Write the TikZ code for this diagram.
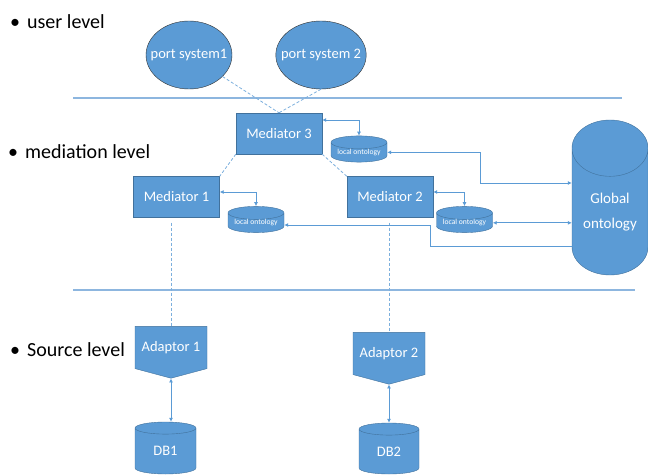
\documentclass[tikz,border=0pt]{standalone}
\usepackage{fontspec}
\setmainfont{Carlito}
\usetikzlibrary{calc,arrows.meta,shapes.geometric,shapes.symbols}
\definecolor{boxblue}{HTML}{5B9BD5}
\definecolor{boxedge}{HTML}{41719C}
\definecolor{rulecol}{HTML}{8DB6DF}
\tikzset{
	levellabel/.style={anchor=west, inner sep=0pt, font=\fontsize{20}{24}\selectfont},
	portsys/.style={ellipse, draw=black!80, fill=boxblue, text=white, minimum width=86pt, minimum height=68pt, inner xsep=-8pt, inner ysep=0pt, font=\fontsize{14.5}{17}\selectfont},
	mediator/.style={draw=boxedge, fill=boxblue, text=white, minimum width=86pt, minimum height=41pt, inner sep=0pt, font=\fontsize{14.5}{17}\selectfont},
	ontodb/.style={cylinder, shape border rotate=90, anchor=shape center, draw=boxedge, fill=boxblue, text=white, inner sep=0pt},
	adaptor/.style={signal, signal to=south, signal from=nowhere, signal pointer angle=150, draw=boxedge, fill=boxblue, text=white, minimum width=72pt, minimum height=50pt, inner sep=0pt, font=\fontsize{14.5}{17}\selectfont},
	dashlink/.style={draw=boxblue!80, dash pattern=on 3pt off 2pt, line width=0.8pt},
	biarrow/.style={draw=boxblue, line width=0.9pt, {Latex[length=4pt,width=4pt]}-{Latex[length=4pt,width=4pt]}},
	onearrow/.style={draw=boxblue, line width=0.9pt, -{Latex[length=4pt,width=4pt]}}
}

\begin{document}
\begin{tikzpicture}[x=1pt, y=-1pt]
	%%%%% START %%%%%
	\useasboundingbox (0, 0) rectangle (648, 476);
	
	\node[levellabel] (lvuser) at (10, 22) {\textbullet\hspace{7pt}user level};
	\node[levellabel] (lvmed) at (8, 152) {\textbullet\hspace{7pt}mediation level};
	\node[levellabel] (lvsrc) at (10, 350) {\textbullet\hspace{7pt}Source level};
	
	\draw[rulecol, line width=1.2pt] (73, 98) -- (622, 98);
	\draw[rulecol, line width=1.2pt] (73, 290) -- (635, 290);
	
	\node[portsys] (ps1) at (189, 55) {port system1};
	\node[portsys] (ps2) at (321, 55) {port system 2};
	
	\node[mediator] (m3) at (279, 133.5) {Mediator 3};
	\node[mediator] (m1) at (176.5, 197) {Mediator 1};
	\node[mediator] (m2) at (390, 197) {Mediator 2};
	
	\node[ontodb, minimum width=56pt, minimum height=25pt, aspect=0.3, font=\fontsize{7.6}{9}\selectfont] (lo3) at (359, 149) {local ontology};
	\node[ontodb, minimum width=56pt, minimum height=25pt, aspect=0.3, font=\fontsize{7.6}{9}\selectfont] (lo1) at (256, 219.5) {local ontology};
	\node[ontodb, minimum width=56pt, minimum height=25pt, aspect=0.3, font=\fontsize{7.6}{9}\selectfont] (lo2) at (464.5, 219.5) {local ontology};
	\node[ontodb, minimum width=76pt, minimum height=155pt, aspect=1.05, align=center, font=\fontsize{15}{25}\selectfont] (go) at (610, 197.5) {Global\\ontology};
	
	\node[adaptor] (ad1) at (171, 347.5) {Adaptor 1};
	\node[adaptor] (ad2) at (389, 353.5) {Adaptor 2};
	
	\node[ontodb, minimum width=61pt, minimum height=52pt, aspect=0.5, font=\fontsize{14.5}{17}\selectfont] (db1) at (165.5, 448) {DB1};
	\node[ontodb, minimum width=60pt, minimum height=51pt, aspect=0.5, font=\fontsize{14.5}{17}\selectfont] (db2) at (389, 448.5) {DB2};
	
	% dashed links
	\draw[dashlink] (ps1) -- (m3.north);
	\draw[dashlink] (ps2.south) -- (m3.north);
	\draw[dashlink] (m3.south west) -- (m1.north east);
	\draw[dashlink] (m3.south east) -- (m2.north west);
	\draw[dashlink] ([yshift=-5pt]m1.south -| ad1.north) -- (ad1.north);
	\draw[dashlink] ([yshift=-5pt]m2.south -| ad2.north) -- (ad2.north);
	
	% mediator <-> local ontology
	\draw[biarrow] ([yshift=13.5pt]m3.east) -| (lo3.north);
	\draw[biarrow] ([yshift=5pt]m1.east) -| (lo1.north);
	\draw[biarrow] ([yshift=5pt]m2.east) -| (lo2.north);
	
	% global ontology
	\coordinate (k3) at (480, 183);
	\coordinate (k1) at (430, 225);
	\draw[biarrow] (lo3.east) -| (k3) -- (go.west |- k3);
	\draw[biarrow] (lo2.east) -- (go.west |- lo2.east);
	\draw[onearrow] (go.west |- 0, 246) -| (k1) -- (lo1.east |- k1);
	
	% adaptors
	\draw[biarrow] (ad1.south) -- (ad1.south |- db1.north);
	\draw[biarrow] (ad2.south) -- (ad2.south |- db2.north);
	%%%%% END %%%%%
\end{tikzpicture}
\end{document}
